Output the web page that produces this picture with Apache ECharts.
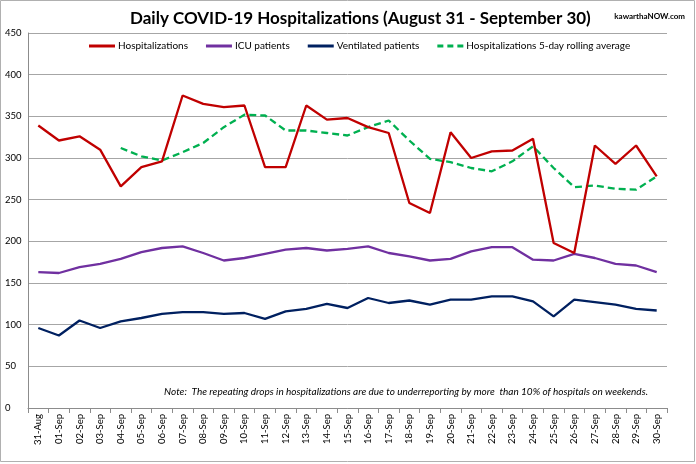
<!DOCTYPE html>
<html><head><meta charset="utf-8">
<script src="https://cdn.jsdelivr.net/npm/echarts@6/dist/echarts.min.js"></script>
<style>html,body{margin:0;padding:0;background:#fff}#c{width:696px;height:464px}</style>
</head><body><div id="c"></div>
<script>
const categories = ['31-Aug','01-Sep','02-Sep','03-Sep','04-Sep','05-Sep','06-Sep','07-Sep','08-Sep','09-Sep','10-Sep','11-Sep','12-Sep','13-Sep','14-Sep','15-Sep','16-Sep','17-Sep','18-Sep','19-Sep','20-Sep','21-Sep','22-Sep','23-Sep','24-Sep','25-Sep','26-Sep','27-Sep','28-Sep','29-Sep','30-Sep'];
const hospitalizations = [339,321,326,310,266,289,296,375,365,361,363,289,289,363,346,348,337,330,246,234,331,300,308,309,323,198,186,315,293,315,278];
const icuPatients = [163,162,169,173,179,187,192,194,186,177,180,185,190,192,189,191,194,186,182,177,179,188,193,193,178,177,185,180,173,171,163];
const ventilatedPatients = [96,87,105,96,104,108,113,115,115,113,114,107,116,119,125,120,132,126,129,124,130,130,134,134,128,110,130,127,124,119,117];
const rollingAverage = [null,null,null,null,312,302,297,307,318,337,352,351,333,333,330,327,337,345,321,299,295,288,284,296,314,288,265,267,263,262,278];
const yTicks = {min:0, max:450, interval:50};

const FONT = 'Lato, "Liberation Sans", sans-serif';
const chart = echarts.init(document.getElementById('c'), null, {renderer:'canvas'});
const lineIcon = 'path://M0,0h26v3h-26z';
const dashIcon = 'path://M0,0h6v3h-6z M10,0h6v3h-6z M20,0h6v3h-6z';
chart.setOption({
  animation:false,
  backgroundColor:'#fff',
  title:[{
    text:'Daily COVID-19 Hospitalizations (August 31 - September 30)',
    left:125, top:5,
    textStyle:{fontFamily:FONT, fontSize:17, fontWeight:'bold', color:'#000'}
  },{
    text:'kawarthaNOW.com', right:6, top:7,
    textStyle:{fontFamily:FONT, fontSize:8, fontWeight:'bold', color:'#000'}
  }],
  legend:{
    left:84, top:36, itemGap:18, itemWidth:26, itemHeight:3,
    textStyle:{fontFamily:FONT, fontSize:10, color:'#000', padding:[0,0,0,-2]},
    data:[
      {name:'Hospitalizations', icon:lineIcon},
      {name:'ICU patients', icon:lineIcon},
      {name:'Ventilated patients', icon:lineIcon},
      {name:'Hospitalizations 5-day rolling average', icon:dashIcon}
    ]
  },
  grid:{left:28, right:29, top:33, bottom:56, containLabel:false},
  xAxis:{
    type:'category', data:categories, boundaryGap:true,
    axisLine:{lineStyle:{color:'#8c8c8c', width:1}},
    axisTick:{show:true, length:5, lineStyle:{color:'#8c8c8c'}},
    axisLabel:{rotate:90, margin:6, fontFamily:FONT, fontSize:9.5, color:'#000', interval:0}
  },
  yAxis:{
    type:'value', min:yTicks.min, max:yTicks.max, interval:yTicks.interval,
    axisLine:{show:true, lineStyle:{color:'#8c8c8c'}},
    axisTick:{show:false},
    axisLabel:{align:'left', margin:23, fontFamily:FONT, fontSize:9.5, color:'#000'},
    splitLine:{lineStyle:{color:'#a6a6a6', width:1}}
  },
  graphic:[
    {type:'rect', shape:{x:0.5, y:0.5, width:694, height:461}, style:{fill:'none', stroke:'#b0b0b0', lineWidth:1}, silent:true},
    {type:'text', right:48, top:387, style:{text:'Note:  The repeating drops in hospitalizations are due to underreporting by more  than 10% of hospitals on weekends.', font:'italic 10px '+FONT, fill:'#000'}}
  ],
  series:[
    {name:'Hospitalizations', type:'line', data:hospitalizations, symbol:'none', lineStyle:{color:'#c00000', width:2.3}, itemStyle:{color:'#c00000'}, z:4},
    {name:'ICU patients', type:'line', data:icuPatients, symbol:'none', lineStyle:{color:'#7030a0', width:2.3}, itemStyle:{color:'#7030a0'}, z:3},
    {name:'Ventilated patients', type:'line', data:ventilatedPatients, symbol:'none', lineStyle:{color:'#002060', width:2.3}, itemStyle:{color:'#002060'}, z:3},
    {name:'Hospitalizations 5-day rolling average', type:'line', data:rollingAverage, symbol:'none', connectNulls:false, lineStyle:{color:'#00b050', width:2.3, type:[7,4]}, itemStyle:{color:'#00b050'}, z:3}
  ]
});
</script></body></html>
